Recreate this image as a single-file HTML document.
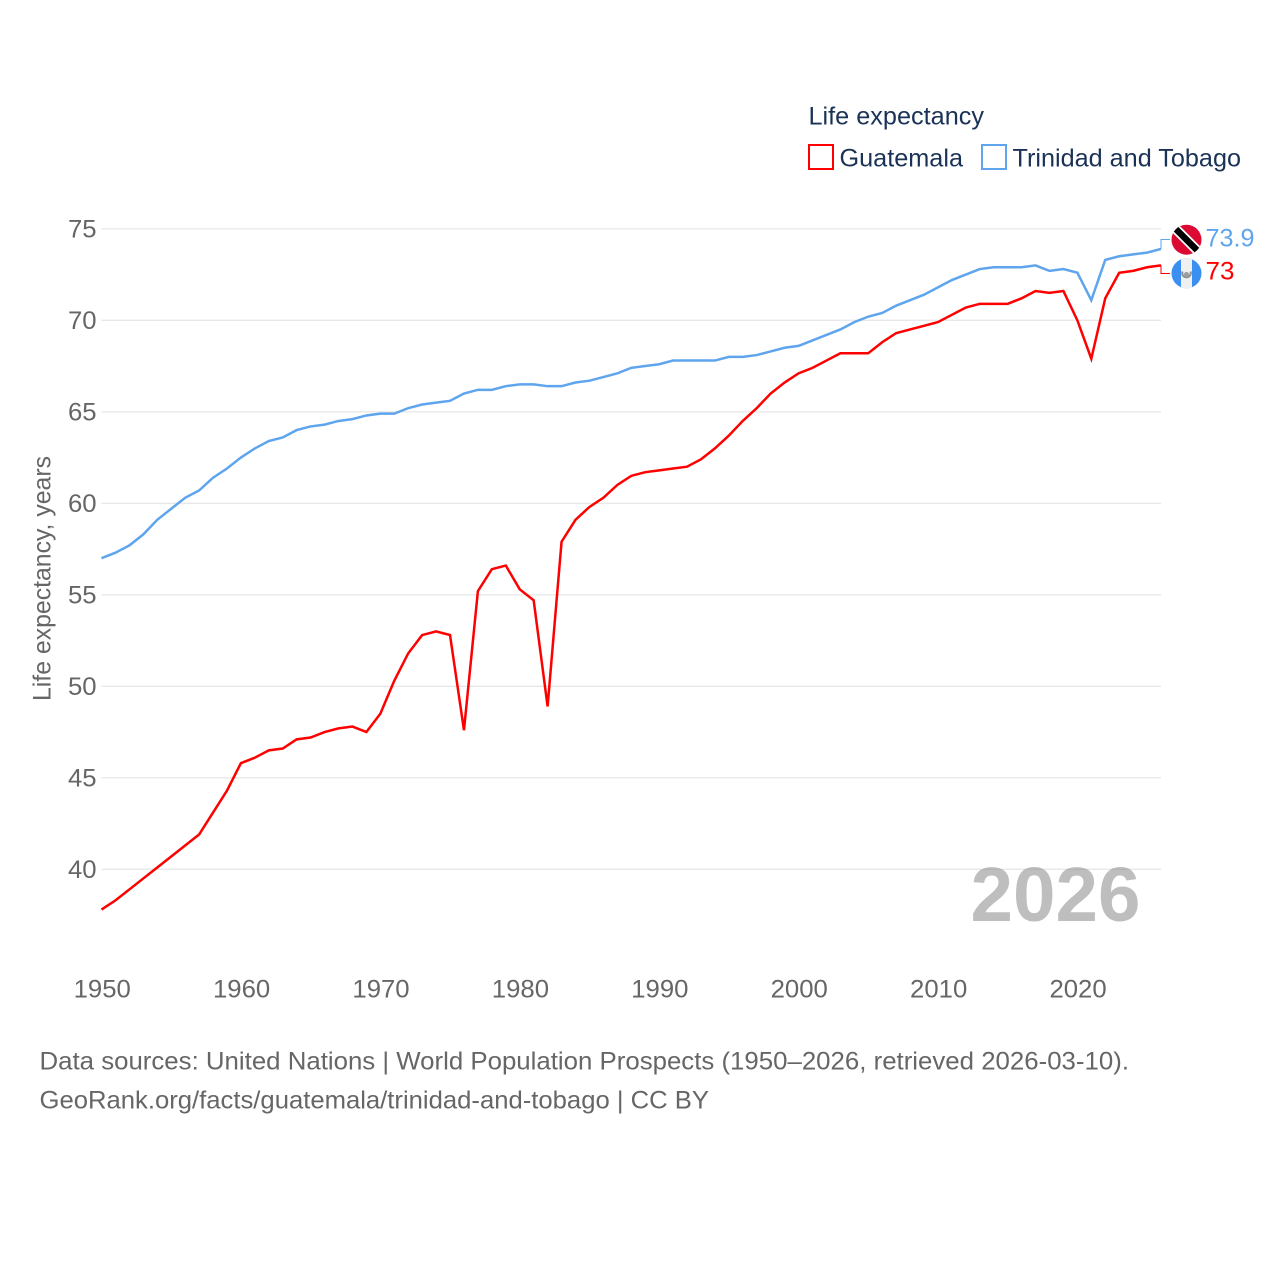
<!DOCTYPE html>
<html lang="en">
<head>
<meta charset="utf-8">
<title>Life expectancy: Guatemala and Trinidad and Tobago</title>
<style>
html,body{margin:0;padding:0;background:#fff;}
svg{display:block;}
text{font-family:"Liberation Sans",sans-serif;}
</style>
</head>
<body>
<svg id="chart" xmlns="http://www.w3.org/2000/svg" width="1280" height="1280" viewBox="0 0 1280 1280">
  <rect width="1280" height="1280" fill="#ffffff"/>
  <g id="grid"></g>
  <g id="yticks"></g>
  <g id="xticks"></g>
  <text transform="translate(50.5,578.5) rotate(-90)" text-anchor="middle" font-size="25" fill="#666666" textLength="245" lengthAdjust="spacingAndGlyphs">Life expectancy, years</text>
  <text x="970.5" y="921" font-size="77" font-weight="700" fill="#888888" fill-opacity="0.55" textLength="170" lengthAdjust="spacingAndGlyphs">2026</text>
  <g id="series"></g>

  <g>
    <text x="808.5" y="124.5" font-size="25" fill="#1a3255" textLength="175.5" lengthAdjust="spacingAndGlyphs">Life expectancy</text>
    <g>
      <rect x="809" y="145" width="24" height="24" fill="none" stroke="#ff0000" stroke-width="2"/>
      <text x="839.5" y="166.5" font-size="25" fill="#1a3255" textLength="123.5" lengthAdjust="spacingAndGlyphs">Guatemala</text>
    </g>
    <g>
      <rect x="982" y="145" width="24" height="24" fill="none" stroke="#5ea5ee" stroke-width="2"/>
      <text x="1012.5" y="166.5" font-size="25" fill="#1a3255" textLength="228.5" lengthAdjust="spacingAndGlyphs">Trinidad and Tobago</text>
    </g>
  </g>

  <defs>
    <clipPath id="flag-clip-tt"><circle cx="1186.5" cy="239.7" r="15"/></clipPath>
    <clipPath id="flag-clip-gt"><circle cx="1186.5" cy="273.3" r="15"/></clipPath>
  </defs>
  <g clip-path="url(#flag-clip-tt)">
    <rect x="1171" y="224" width="31" height="31" fill="#da0a32"/>
    <line x1="1171.5" y1="224.7" x2="1201.5" y2="254.7" stroke="#ffffff" stroke-width="10"/>
    <line x1="1171.5" y1="224.7" x2="1201.5" y2="254.7" stroke="#000000" stroke-width="6.5"/>
  </g>
  <g clip-path="url(#flag-clip-gt)">
    <rect x="1171" y="258" width="31" height="31" fill="#3a8ff0"/>
    <rect x="1181" y="258" width="11" height="31" fill="#f0f0f0"/>
    <path d="M1182.5 271.5a4.3 4.3 0 1 0 8 0" fill="none" stroke="#8a9296" stroke-width="2"/>
    <circle cx="1186.5" cy="274.5" r="2.6" fill="#9aa0a0"/>
  </g>

  <g>
    <text x="39.5" y="1069.5" font-size="25" fill="#666666" textLength="1089.5" lengthAdjust="spacingAndGlyphs">Data sources: United Nations | World Population Prospects (1950–2026, retrieved 2026-03-10).</text>
    <text x="39.5" y="1108.5" font-size="25" fill="#666666" textLength="669.5" lengthAdjust="spacingAndGlyphs">GeoRank.org/facts/guatemala/trinidad-and-tobago | CC BY</text>
  </g>
</svg>
<script>
const startYear = 1950;
const guatemalaValues = [37.8,38.3,38.9,39.5,40.1,40.7,41.3,41.9,43.1,44.3,45.8,46.1,46.5,46.6,47.1,47.2,47.5,47.7,47.8,47.5,48.5,50.3,51.8,52.8,53.0,52.8,47.6,55.2,56.4,56.6,55.3,54.7,48.9,57.9,59.1,59.8,60.3,61.0,61.5,61.7,61.8,61.9,62.0,62.4,63.0,63.7,64.5,65.2,66.0,66.6,67.1,67.4,67.8,68.2,68.2,68.2,68.8,69.3,69.5,69.7,69.9,70.3,70.7,70.9,70.9,70.9,71.2,71.6,71.5,71.6,70.0,67.9,71.2,72.6,72.7,72.9,73.0];
const trinidadValues = [57.0,57.3,57.7,58.3,59.1,59.7,60.3,60.7,61.4,61.9,62.5,63.0,63.4,63.6,64.0,64.2,64.3,64.5,64.6,64.8,64.9,64.9,65.2,65.4,65.5,65.6,66.0,66.2,66.2,66.4,66.5,66.5,66.4,66.4,66.6,66.7,66.9,67.1,67.4,67.5,67.6,67.8,67.8,67.8,67.8,68.0,68.0,68.1,68.3,68.5,68.6,68.9,69.2,69.5,69.9,70.2,70.4,70.8,71.1,71.4,71.8,72.2,72.5,72.8,72.9,72.9,72.9,73.0,72.7,72.8,72.6,71.1,73.3,73.5,73.6,73.7,73.9];
const yTickValues = [40,45,50,55,60,65,70,75];
const xTickValues = [1950,1960,1970,1980,1990,2000,2010,2020];

const NS = 'http://www.w3.org/2000/svg';
function xScale(year) { return 101.5 + (year - 1950) * (1161 - 101.5) / 76; }
function yScale(value) { return 869.3 - (value - 40) * 18.3; }
function linePath(values) {
  return values.map(function (v, i) {
    return (i ? 'L' : 'M') + xScale(startYear + i).toFixed(2) + ' ' + yScale(v).toFixed(2);
  }).join('');
}
function digitsWidth(label) { return String(label).length * 14.3; }

const grid = document.getElementById('grid');
const yticks = document.getElementById('yticks');
yTickValues.forEach(function (v) {
  const ln = document.createElementNS(NS, 'line');
  
  
  ln.setAttribute('x1', xScale(1950));
  ln.setAttribute('x2', xScale(2026));
  ln.setAttribute('y1', yScale(v));
  ln.setAttribute('y2', yScale(v));
  ln.setAttribute('stroke', '#e8e8e8');
  ln.setAttribute('stroke-width', '1.4');
  grid.appendChild(ln);
  const t = document.createElementNS(NS, 'text');
  
  
  t.setAttribute('x', 68);
  t.setAttribute('y', yScale(v) + 8.5);
  t.setAttribute('font-size', '25');
  t.setAttribute('fill', '#666666');
  t.setAttribute('textLength', digitsWidth(v));
  t.setAttribute('lengthAdjust', 'spacingAndGlyphs');
  t.textContent = v;
  yticks.appendChild(t);
});

const xticks = document.getElementById('xticks');
xTickValues.forEach(function (yr) {
  const t = document.createElementNS(NS, 'text');
  
  
  t.setAttribute('x', xScale(yr) + 0.7);
  t.setAttribute('y', 997.5);
  t.setAttribute('text-anchor', 'middle');
  t.setAttribute('font-size', '25');
  t.setAttribute('fill', '#666666');
  t.setAttribute('textLength', digitsWidth(yr));
  t.setAttribute('lengthAdjust', 'spacingAndGlyphs');
  t.textContent = yr;
  xticks.appendChild(t);
});

const series = document.getElementById('series');

const lineGt = document.createElementNS(NS, 'path');


lineGt.setAttribute('d', linePath(guatemalaValues));
lineGt.setAttribute('fill', 'none');
lineGt.setAttribute('stroke', '#ff0000');
lineGt.setAttribute('stroke-width', '2.5');
lineGt.setAttribute('stroke-linejoin', 'miter');
series.appendChild(lineGt);

const lineTt = document.createElementNS(NS, 'path');


lineTt.setAttribute('d', linePath(trinidadValues));
lineTt.setAttribute('fill', 'none');
lineTt.setAttribute('stroke', '#5ea5ee');
lineTt.setAttribute('stroke-width', '2.5');
lineTt.setAttribute('stroke-linejoin', 'miter');
series.appendChild(lineTt);

const lastGt = guatemalaValues[guatemalaValues.length - 1];
const lastTt = trinidadValues[trinidadValues.length - 1];
const endX = xScale(startYear + guatemalaValues.length - 1);

const connGt = document.createElementNS(NS, 'path');


connGt.setAttribute('d', 'M' + endX + ' ' + yScale(lastGt) + 'V273.5H' + (endX + 9));
connGt.setAttribute('fill', 'none');
connGt.setAttribute('stroke', '#ff0000');
connGt.setAttribute('stroke-width', '1');
series.appendChild(connGt);

const connTt = document.createElementNS(NS, 'path');


connTt.setAttribute('d', 'M' + endX + ' ' + yScale(lastTt) + 'V239.5H' + (endX + 9));
connTt.setAttribute('fill', 'none');
connTt.setAttribute('stroke', '#5ea5ee');
connTt.setAttribute('stroke-width', '1');
series.appendChild(connTt);

const valTt = document.createElementNS(NS, 'text');


valTt.setAttribute('x', 1205.5);
valTt.setAttribute('y', 246.5);
valTt.setAttribute('font-size', '25');
valTt.setAttribute('fill', '#5ea5ee');
valTt.setAttribute('textLength', '49');
valTt.setAttribute('lengthAdjust', 'spacingAndGlyphs');
valTt.textContent = lastTt.toFixed(1);
series.appendChild(valTt);

const valGt = document.createElementNS(NS, 'text');


valGt.setAttribute('x', 1205.5);
valGt.setAttribute('y', 279.5);
valGt.setAttribute('font-size', '25');
valGt.setAttribute('fill', '#ff0000');
valGt.setAttribute('textLength', '29');
valGt.setAttribute('lengthAdjust', 'spacingAndGlyphs');
valGt.textContent = String(lastGt);
series.appendChild(valGt);
</script>
</body>
</html>
